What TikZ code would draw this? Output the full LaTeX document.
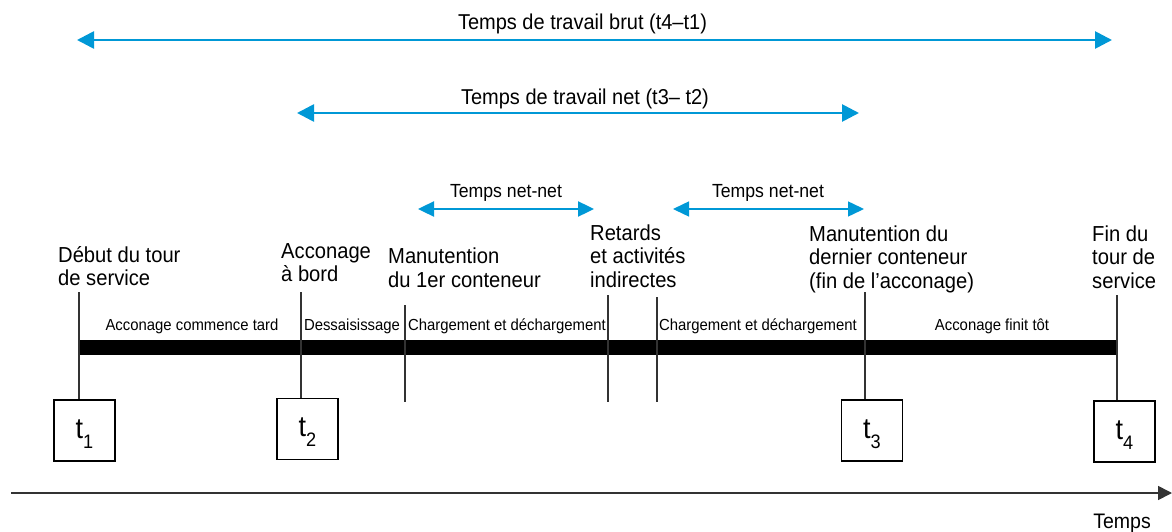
\documentclass[tikz,border=0pt]{standalone}
\usepackage{fontspec}
\setmainfont{Liberation Sans}[FakeStretch=0.93]
\usetikzlibrary{arrows.meta}
\definecolor{spanblue}{RGB}{0,152,214}
\newcommand{\tsub}[1]{\raisebox{-10pt}{\fontsize{19.5}{19.5}\selectfont #1}}
\tikzset{
  span/.style = {spanblue, line width = 2.7pt, {Triangle[length=17pt,width=17pt]}-{Triangle[length=17pt,width=17pt]}},
  spansmall/.style = {spanblue, line width = 2.4pt, {Triangle[length=16pt,width=15pt]}-{Triangle[length=16pt,width=15pt]}},
  spanlabel/.style = {anchor = base, inner sep = 0pt, font = \fontsize{21.5}{24}\selectfont},
  netlabel/.style = {anchor = base, inner sep = 0pt, font = \fontsize{19}{22}\selectfont},
  event/.style = {anchor = base west, inner sep = 0pt, align = left, font = \fontsize{21.7}{23.5}\selectfont},
  phase/.style = {anchor = base, inner sep = 0pt, font = \fontsize{16}{19}\selectfont},
  tbox/.style = {draw, line width = 1.8pt, minimum width = 61pt, minimum height = 61pt, inner sep = 0pt,
    text height = 20pt, text depth = 5pt, font = \fontsize{29}{29}\selectfont},
  tick/.style = {line width = 1.2pt, black!80}
}
\begin{document}
\begin{tikzpicture}[x = 1pt, y = -1pt]
\useasboundingbox (0,0) rectangle (1172,532);
\coordinate (brutL) at (77,40);
\coordinate (brutR) at (1112,40);
\draw[span] (brutL) -- (brutR);
\node[spanlabel] (brut) at (582.5,29.5) {Temps de travail brut (t4–t1)};
\coordinate (netL) at (297,113);
\coordinate (netR) at (859,113);
\draw[span] (netL) -- (netR);
\node[spanlabel] (net) at (585,105) {Temps de travail net (t3– t2)};
\coordinate (nnaL) at (418,209);
\coordinate (nnaR) at (594,209);
\draw[spansmall] (nnaL) -- (nnaR);
\node[netlabel] (nna) at (506,197.5) {Temps net-net};
\coordinate (nnbL) at (673,209);
\coordinate (nnbR) at (864,209);
\draw[spansmall, line width = 1.5pt] (nnbL) -- (nnbR);
\node[netlabel] (nnb) at (768,197) {Temps net-net};
\node[event] (debut) at (58,285.5) {Début du tour\\de service};
\node[event] (bord) at (281,281.5) {Acconage\\à bord};
\node[event] (prem) at (388,287) {Manutention\\du 1er conteneur};
\node[event] (retard) at (590,287) {Retards\\et activités\\indirectes};
\node[event] (dern) at (809,288) {Manutention du\\dernier conteneur\\(fin de l’acconage)};
\node[event] (fin) at (1092,288) {Fin du\\tour de\\service};
\fill (79,340) rectangle (1117,355);
\node[phase] (tard) at (192,330) {Acconage commence tard};
\node[phase] (dessais) at (352,330) {Dessaisissage};
\node[phase] (charga) at (507,330) {Chargement et déchargement};
\node[phase] (chargb) at (758,330) {Chargement et déchargement};
\node[phase] (tot) at (992,330) {Acconage finit tôt};
\node[tbox] (t1) at (84.5,430.5) {t\tsub{1}};
\node[tbox] (t2) at (307.5,429) {t\tsub{2}};
\node[tbox] (t3) at (872,430.5) {t\tsub{3}};
\node[tbox] (t4) at (1124.5,431.5) {t\tsub{4}};
\coordinate (k1) at (79,292);
\coordinate (k2) at (301,292);
\coordinate (k3) at (865,292);
\coordinate (k4) at (1117,295);
\draw[tick] (k1) -- (k1 |- t1.north);
\draw[tick] (k2) -- (k2 |- t2.north);
\draw[tick] (k3) -- (k3 |- t3.north);
\draw[tick] (k4) -- (k4 |- t4.north);
\coordinate (m1a) at (405,305);
\coordinate (m1b) at (405,402);
\coordinate (m2a) at (608,295);
\coordinate (m2b) at (608,402);
\coordinate (m3a) at (657,297);
\coordinate (m3b) at (657,402);
\draw[tick] (m1a) -- (m1b);
\draw[tick] (m2a) -- (m2b);
\draw[tick] (m3a) -- (m3b);
\coordinate (axL) at (11,493);
\coordinate (axR) at (1172,493);
\draw[line width = 1.6pt, black!80, -{Triangle[length=14pt,width=14pt]}] (axL) -- (axR);
\node[phase, font = \fontsize{21}{24}\selectfont] (temps) at (1122,528) {Temps};
\end{tikzpicture}
\end{document}
